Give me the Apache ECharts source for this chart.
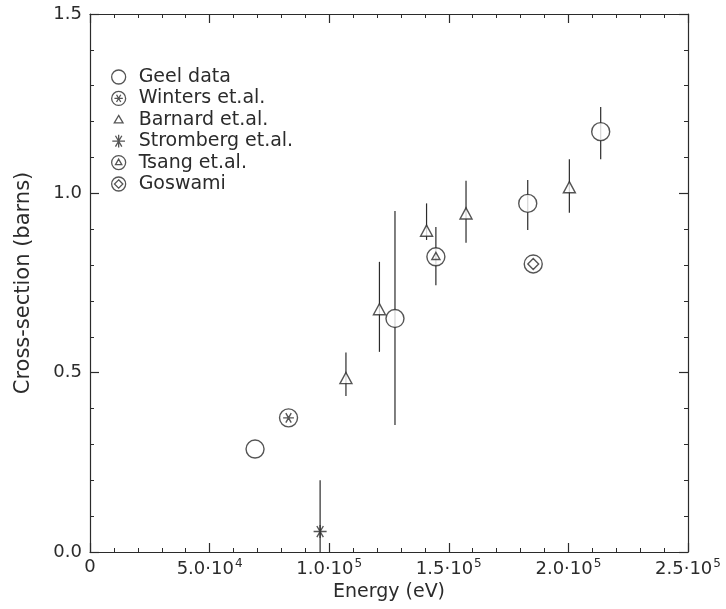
<!DOCTYPE html>
<html>
<head>
<meta charset="utf-8">
<script src="https://cdn.jsdelivr.net/npm/echarts@6/dist/echarts.min.js"></script>
<style>
    html, body { margin: 0; padding: 0; background: #fff; }
    #chart { width: 726px; height: 609px; }
</style>
</head>
<body>
<div id="chart"></div>
<script>
// 数据 [energy (eV), cross-section (barns)]
const geel = [[69000, 0.287], [127500, 0.651], [183000, 0.972], [213500, 1.172]];
const winters = [[83000, 0.374]];
const barnard = [[107000, 0.485], [121000, 0.677], [140700, 0.896], [157200, 0.944], [200400, 1.017]];
const stromberg = [[96200, 0.057]];
const tsang = [[144600, 0.823]];
const goswami = [[185300, 0.803]];

// 误差棒 [energy, low, high]
const geelErr = [[127500, 0.354, 0.951], [183000, 0.898, 1.037], [213500, 1.095, 1.241]];
const barnardErr = [[107000, 0.435, 0.556], [121000, 0.558, 0.809], [140700, 0.87, 0.972], [157200, 0.862, 1.035], [200400, 0.946, 1.095]];
const strombergErr = [[96200, 0, 0.2]];
const tsangErr = [[144600, 0.744, 0.906]];

const seriesNames = ['Geel data', 'Winters et.al.', 'Barnard et.al.', 'Stromberg et.al.', 'Tsang et.al.', 'Goswami'];

const ink = '#2b2b2b';
const font = 'DejaVu Sans';

// 符号
const ring = 'M0,-10A10,10,0,1,1,0,10A10,10,0,1,1,0,-10Z';
const shapes = {
    geel: 'path://' + ring,
    winters: 'path://' + ring + 'M-6,0L6,0M-3,-5.2L3,5.2M3,-5.2L-3,5.2',
    barnard: 'path://M0,-8L7,5L-7,5Z',
    stromberg: 'path://M-7,0L7,0M-3.5,-6L3.5,6M3.5,-6L-3.5,6M0,-7L0,7',
    tsang: 'path://' + ring + 'M0,-5L4.5,3L-4.5,3Z',
    goswami: 'path://' + ring + 'M0,-6L6,0L0,6L-6,0Z'
};
// legend icons, padded so the small marks stay small
const legendIcons = [
    shapes.geel,
    shapes.winters,
    'path://M0,-5L5,3.5L-5,3.5ZM-8,-8M8,8',
    'path://M-5,0L5,0M-2.5,-4.3L2.5,4.3M2.5,-4.3L-2.5,4.3M0,-5L0,5M-5.5,-5.5M5.5,5.5',
    shapes.tsang,
    shapes.goswami
];

const markStyle = { color: '#fff', borderColor: ink, borderWidth: 1.4 };

function scatter(name, data, symbol, size) {
    return {
        name: name,
        type: 'scatter',
        data: data,
        symbol: symbol,
        symbolSize: size,
        symbolKeepAspect: true,
        itemStyle: markStyle,
        z: 3
    };
}

function errorBars(data) {
    return {
        type: 'custom',
        data: data,
        silent: true,
        z: 2,
        encode: { x: 0, y: [1, 2] },
        renderItem: function (params, api) {
            const lo = api.coord([api.value(0), api.value(1)]);
            const hi = api.coord([api.value(0), api.value(2)]);
            return {
                type: 'line',
                shape: { x1: lo[0], y1: lo[1], x2: hi[0], y2: hi[1] },
                style: { stroke: ink, lineWidth: 1.2 }
            };
        }
    };
}

function sciLabel(v) {
    if (v === 0) return '0';
    const e = Math.floor(Math.log10(v) + 1e-9);
    return (v / Math.pow(10, e)).toFixed(1) + '·10{sup|' + e + '}';
}

const baseAxisLine = { onZero: false, lineStyle: { color: ink, width: 1.2 } };
const tick = { inside: true, length: 9, lineStyle: { color: ink, width: 1.2 } };
const minor = { show: true, splitNumber: 5, length: 4, lineStyle: { color: ink, width: 1 } };

const xCommon = {
    type: 'value', min: 0, max: 250000, interval: 50000,
    axisLine: baseAxisLine, axisTick: tick, minorTick: minor,
    splitLine: { show: false }, minorSplitLine: { show: false }
};
const yCommon = {
    type: 'value', min: 0, max: 1.5, interval: 0.5,
    axisLine: baseAxisLine, axisTick: tick, minorTick: minor,
    splitLine: { show: false }, minorSplitLine: { show: false }
};

const option = {
    backgroundColor: '#fff',
    animation: false,
    grid: { left: 90, right: 38, top: 14, bottom: 57 },
    legend: {
        orient: 'vertical',
        left: 106,
        top: 62,
        itemWidth: 14,
        itemHeight: 14,
        itemGap: 1.4,
        textStyle: { fontFamily: font, fontSize: 19, color: ink, lineHeight: 20, padding: [0, 0, 0, 8] },
        itemStyle: { color: '#fff', borderColor: ink, borderWidth: 1.3 },
        data: seriesNames.map(function (n, i) { return { name: n, icon: legendIcons[i] }; })
    },
    xAxis: [
        Object.assign({}, xCommon, {
            position: 'bottom',
            name: 'Energy (eV)',
            nameLocation: 'middle',
            nameGap: 26,
            nameTextStyle: { fontFamily: font, fontSize: 19, color: ink },
            axisLabel: {
                margin: 6,
                fontFamily: font, fontSize: 18, color: ink,
                formatter: sciLabel,
                rich: { sup: { fontFamily: font, fontSize: 12, color: ink, padding: [0, 0, 10, 1] } }
            }
        }),
        Object.assign({}, xCommon, { position: 'top', axisLabel: { show: false } })
    ],
    yAxis: [
        Object.assign({}, yCommon, {
            position: 'left',
            name: 'Cross-section (barns)',
            nameLocation: 'middle',
            nameGap: 56,
            nameTextStyle: { fontFamily: font, fontSize: 21, color: ink },
            axisLabel: {
                margin: 8,
                fontFamily: font, fontSize: 18, color: ink,
                formatter: function (v) { return v.toFixed(1); }
            }
        }),
        Object.assign({}, yCommon, { position: 'right', axisLabel: { show: false } })
    ],
    series: [
        errorBars(geelErr),
        errorBars(barnardErr),
        errorBars(strombergErr),
        errorBars(tsangErr),
        scatter(seriesNames[0], geel, shapes.geel, 18),
        scatter(seriesNames[1], winters, shapes.winters, 18),
        scatter(seriesNames[2], barnard, shapes.barnard, 12),
        scatter(seriesNames[3], stromberg, shapes.stromberg, 13),
        scatter(seriesNames[4], tsang, shapes.tsang, 18),
        scatter(seriesNames[5], goswami, shapes.goswami, 18)
    ]
};

const chart = echarts.init(document.getElementById('chart'));
chart.setOption(option);
</script>
</body>
</html>
